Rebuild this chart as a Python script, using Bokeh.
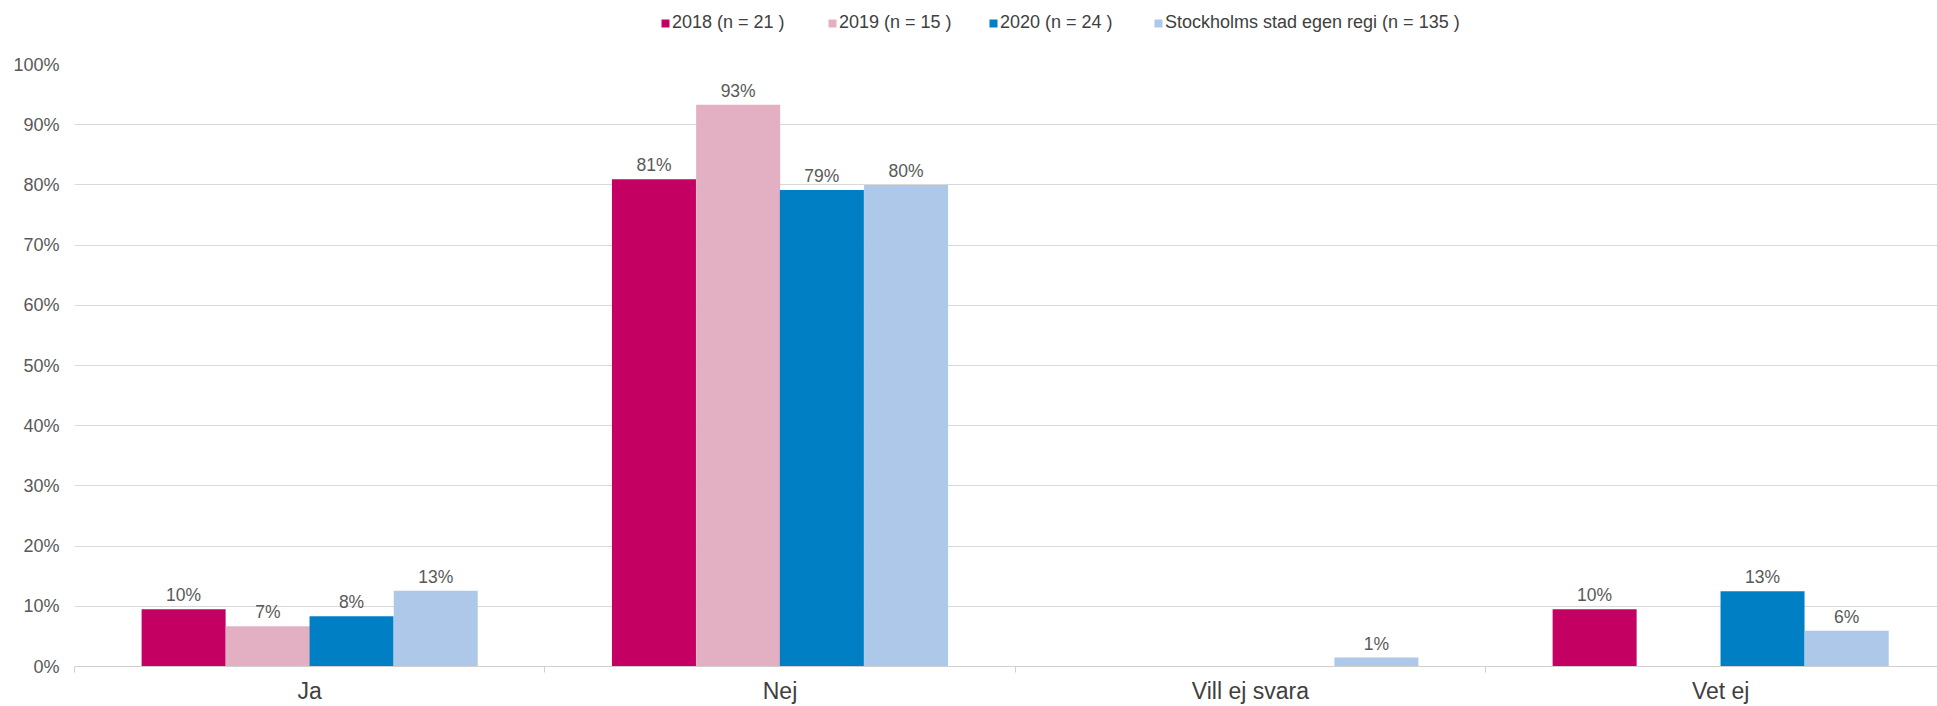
from bokeh.plotting import figure
from bokeh.layouts import column
from bokeh.models import (ColumnDataSource, Range1d, FixedTicker, Legend, LegendItem,
                          NumeralTickFormatter)
from bokeh.core.properties import value
from bokeh.embed import file_html
from bokeh.resources import INLINE

# ---------------- data ----------------
categories = ["Ja", "Nej", "Vill ej svara", "Vet ej"]
series_names = ["2018 (n = 21 )", "2019 (n = 15 )", "2020 (n = 24 )",
                "Stockholms stad egen regi (n = 135 )"]
values_2018 = [0.0952, 0.8095, None, 0.0952]
values_2019 = [0.0667, 0.9333, None, None]
values_2020 = [0.0833, 0.7917, None, 0.1250]
values_sthlm = [0.1259, 0.8000, 0.0148, 0.0593]
colors = ["#C40062", "#E2B0C2", "#007FC4", "#AEC8EA"]
y_ticks = [0.0, 0.1, 0.2, 0.3, 0.4, 0.5, 0.6, 0.7, 0.8, 0.9, 1.0]

# ---------------- styling ----------------
FONT = "Liberation Sans"
W, H = 1937, 706
LEG_H = 44
legend_x = [586, 753, 914, 1079]     # screen position of each legend entry
offsets = [-0.268, -0.089, 0.089, 0.268]
bar_w = 0.1786

# ---------------- legend strip ----------------
lg = figure(width=W, height=LEG_H, output_backend="svg", toolbar_location=None,
            x_range=Range1d(0, 1), y_range=Range1d(0, 1),
            x_axis_type=None, y_axis_type=None,
            min_border_left=0, min_border_right=0, min_border_top=0, min_border_bottom=0)
lg.outline_line_color = None
lg.xgrid.visible = False
lg.ygrid.visible = False
for name, col, lx in zip(series_names, colors, legend_x):
    # legend swatch source: a zero-size bar carrying the series colour
    r = lg.vbar(x=[0.5], top=[0], bottom=[0], width=0, fill_color=col, line_color=None)
    leg = Legend(items=[LegendItem(label=name, renderers=[r])],
                 location=(lx, 11), orientation="horizontal",
                 glyph_width=10, glyph_height=10, label_standoff=2,
                 padding=0, margin=0, label_height=20,
                 border_line_color=None, background_fill_alpha=0,
                 label_text_font=FONT, label_text_font_size="18px",
                 label_text_color="#404040")
    lg.add_layout(leg, "center")

# ---------------- main chart ----------------
p = figure(width=W, height=H - LEG_H, output_backend="svg", toolbar_location=None,
           x_range=Range1d(0, 3.961), y_range=Range1d(0, 1.0),
           min_border_left=74, min_border_right=0, min_border_top=64 - LEG_H,
           min_border_bottom=36)
p.outline_line_color = None
p.background_fill_color = "white"
p.border_fill_color = "white"

# grid
p.xgrid.visible = False
p.ygrid.ticker = FixedTicker(ticks=y_ticks)
p.ygrid.grid_line_color = "#D9D9D9"
p.ygrid.grid_line_width = 1

# y axis
p.yaxis.ticker = FixedTicker(ticks=y_ticks)
p.yaxis.formatter = NumeralTickFormatter(format="0%")
p.yaxis.axis_line_color = None
p.yaxis.major_tick_line_color = None
p.yaxis.minor_tick_line_color = None
p.yaxis.major_tick_out = 0
p.yaxis.major_tick_in = 0
p.yaxis.major_label_standoff = 15
p.yaxis.major_label_text_font = FONT
p.yaxis.major_label_text_font_size = "18px"
p.yaxis.major_label_text_color = "#595959"

# x axis: category names at centres, separator ticks at boundaries
cat_pos = [i + 0.5 for i in range(len(categories))]
p.xaxis.ticker = FixedTicker(ticks=cat_pos, minor_ticks=list(range(len(categories) + 1)))
p.xaxis.major_label_overrides = {pos: c for pos, c in zip(cat_pos, categories)}
p.xaxis.axis_line_color = "#D0D0D0"
p.xaxis.axis_line_width = 1
p.xaxis.major_tick_line_color = None
p.xaxis.major_tick_out = 0
p.xaxis.major_tick_in = 0
p.xaxis.minor_tick_line_color = "#D0D0D0"
p.xaxis.minor_tick_out = 6
p.xaxis.minor_tick_in = 0
p.xaxis.major_label_standoff = 5
p.xaxis.major_label_text_font = FONT
p.xaxis.major_label_text_font_size = "23px"
p.xaxis.major_label_text_color = "#404040"

all_vals = [values_2018, values_2019, values_2020, values_sthlm]
for k, (vals, col) in enumerate(zip(all_vals, colors)):
    xs, ys, labels = [], [], []
    for i, v in enumerate(vals):
        if v is None:
            continue
        xs.append(i + 0.5 + offsets[k])
        ys.append(v)
        labels.append(f"{int(v * 100 + 0.5)}%")
    src = ColumnDataSource(dict(x=xs, top=ys, label=labels))
    p.vbar(x="x", top="top", bottom=0, width=bar_w, source=src,
           fill_color=col, line_color=None)
    p.text(x="x", y="top", text="label", source=src, text_align="center",
           text_baseline="middle", y_offset=-14, text_font=value(FONT),
           text_font_size="17.5px", text_color="#595959")

layout = column(lg, p, spacing=0)
open("out.html", "w").write(file_html(layout, INLINE))
